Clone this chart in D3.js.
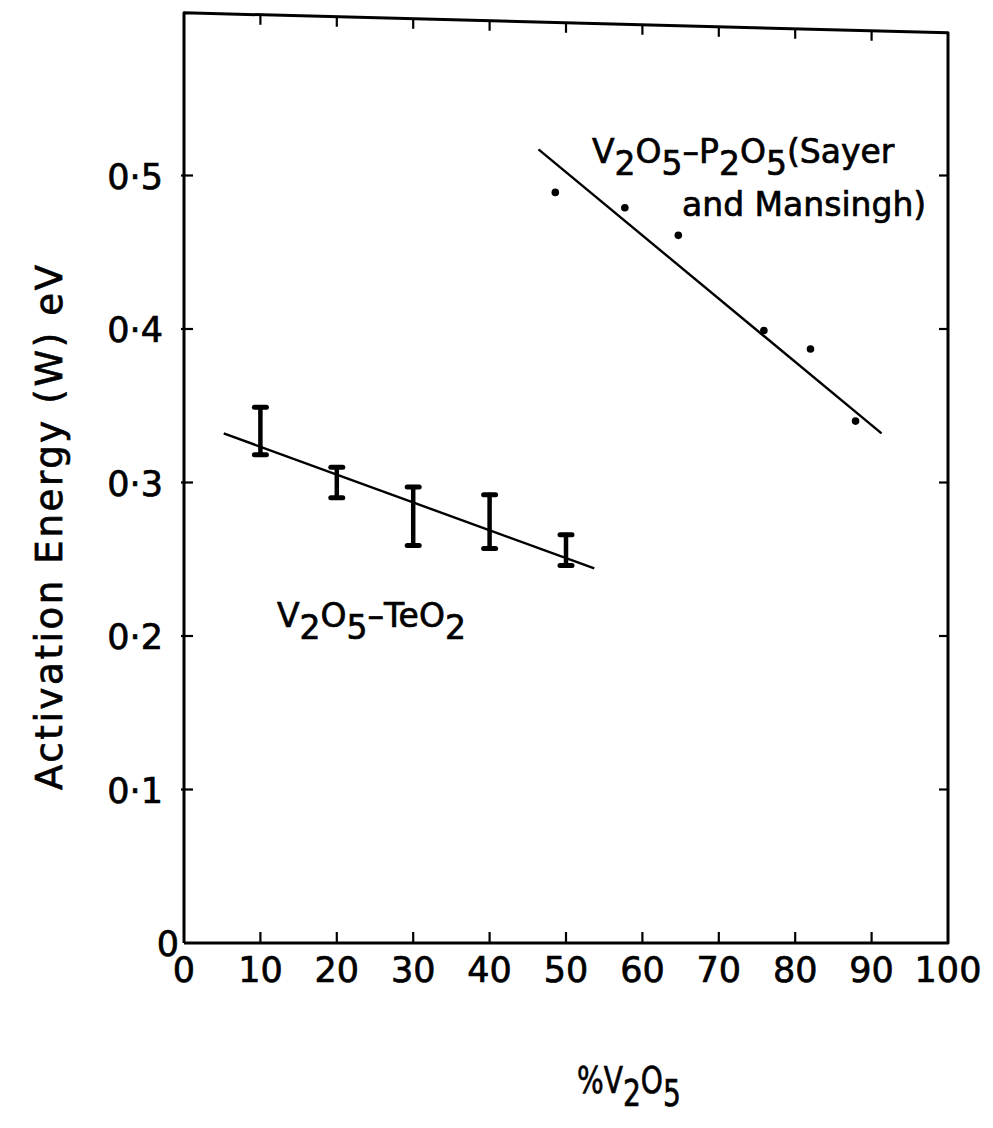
<!DOCTYPE html>
<html>
<head>
<meta charset="utf-8">
<script src="https://cdn.jsdelivr.net/npm/d3@7"></script>
<style>
  html, body { margin: 0; padding: 0; background: #fff; }
  svg { display: block; }
  text { font-family: "DejaVu Sans", "Liberation Sans", sans-serif; fill: #000; stroke: #000; stroke-width: 0.7; }
</style>
</head>
<body>
<svg id="chart" width="993" height="1128"></svg>
<script>
// V2O5–TeO2 glasses: activation energy with error ranges
const teoComposition = [10, 20, 30, 40, 50];
const teoLow  = [0.318, 0.290, 0.259, 0.257, 0.246];
const teoHigh = [0.349, 0.310, 0.297, 0.292, 0.266];
// least-squares line drawn through the TeO2 data
const teoFitX = [5.2, 53.7];
const teoFitY = [0.332, 0.244];

// V2O5–P2O5 glasses (Sayer and Mansingh)
const sayerComposition = [48.6, 57.7, 64.7, 75.9, 82.0, 87.9];
const sayerEnergy      = [0.489, 0.479, 0.461, 0.399, 0.387, 0.340];
const sayerFitX = [46.4, 91.3];
const sayerFitY = [0.517, 0.332];

// axis ticks
const xTicks = [0, 10, 20, 30, 40, 50, 60, 70, 80, 90, 100];
const yTicks = [0, 0.1, 0.2, 0.3, 0.4, 0.5];
const yTickLabels = ["0", "0·1", "0·2", "0·3", "0·4", "0·5"];
// upper edge of the plotting frame (left, right), in eV
const frameTopEnergy = [0.606, 0.593];

const svg = d3.select("#chart");
const x = d3.scaleLinear().domain([0, 100]).range([184, 948]);
const y = d3.scaleLinear().domain([0, 0.6]).range([943, 22]);
const topEdge = d3.scaleLinear().domain([0, 100])
  .range([y(frameTopEnergy[0]), y(frameTopEnergy[1])]);

const ink = "#000";

// frame
const frame = svg.append("g").attr("fill", "none").attr("stroke", ink)
  .attr("stroke-width", 3).attr("stroke-linejoin", "round");
frame.append("path").attr("d", d3.line()([
  [x(0), y(0)], [x(0), topEdge(0)], [x(100), topEdge(100)], [x(100), y(0)], [x(0), y(0)]
]));

// inward ticks on all four sides
const inner = xTicks.filter(d => d > 0 && d < 100);
const innerY = yTicks.filter(d => d > 0);
const ticks = svg.append("g").attr("stroke", ink).attr("stroke-width", 2.2);
ticks.selectAll(".tb").data(inner).join("line")
  .attr("x1", d => x(d)).attr("x2", d => x(d))
  .attr("y1", y(0)).attr("y2", y(0) - 11);
ticks.selectAll(".tt").data(inner).join("line")
  .attr("x1", d => x(d)).attr("x2", d => x(d))
  .attr("y1", d => topEdge(d)).attr("y2", d => topEdge(d) + 10);
ticks.selectAll(".tl").data(innerY).join("line")
  .attr("x1", x(0) - 3).attr("x2", x(0) + 9)
  .attr("y1", d => y(d)).attr("y2", d => y(d));
ticks.selectAll(".tr").data(innerY).join("line")
  .attr("x1", x(100)).attr("x2", x(100) - 9)
  .attr("y1", d => y(d)).attr("y2", d => y(d));

// tick labels
svg.append("g").selectAll("text").data(xTicks).join("text")
  .attr("x", d => x(d)).attr("y", 982)
  .attr("text-anchor", "middle").attr("font-size", 35)
  .text(d => d);
svg.append("g").selectAll("text").data(yTicks).join("text")
  .attr("x", d => d === 0 ? x(0) - 5 : x(0) - 21)
  .attr("y", d => y(d) + 13)
  .attr("text-anchor", "end").attr("font-size", 35)
  .text((d, i) => yTickLabels[i]);

// axis titles
svg.append("text")
  .attr("transform", `translate(62, ${(265 + 790) / 2}) rotate(-90)`)
  .attr("text-anchor", "middle").attr("font-size", 37)
  .attr("textLength", 525).attr("lengthAdjust", "spacing")
  .text("Activation Energy (W) eV");

function formula(g, parts, size) {
  // parts: [text, isSubscript]
  const t = g.append("text").attr("font-size", size);
  parts.forEach(([s, sub], i) => {
    const prevSub = i > 0 && parts[i - 1][1];
    let dy = 0;
    if (sub && !prevSub) dy = size * 0.36;
    if (!sub && prevSub) dy = -size * 0.36;
    t.append("tspan").attr("dy", dy).text(s);
  });
  return t;
}

// x title, lettered narrow
formula(svg, [["%V", false], ["2", true], ["O", false], ["5", true]], 37)
  .attr("transform", "translate(577, 1093) scale(0.76, 1)");

// series labels
formula(svg, [["V", false], ["2", true], ["O", false], ["5", true], ["–TeO", false], ["2", true]], 33)
  .attr("x", 277).attr("y", 627);
formula(svg, [["V", false], ["2", true], ["O", false], ["5", true], ["–P", false], ["2", true],
              ["O", false], ["5", true], ["(Sayer", false]], 33)
  .attr("x", 592).attr("y", 163);
svg.append("text").attr("x", 682).attr("y", 216).attr("font-size", 33).text("and Mansingh)");

// fitted lines
const line = d3.line().x(d => x(d[0])).y(d => y(d[1]));
svg.append("path").attr("d", line(teoFitX.map((v, i) => [v, teoFitY[i]])))
  .attr("fill", "none").attr("stroke", ink).attr("stroke-width", 2.4);
svg.append("path").attr("d", line(sayerFitX.map((v, i) => [v, sayerFitY[i]])))
  .attr("fill", "none").attr("stroke", ink).attr("stroke-width", 2.4);

// error bars
const bars = svg.append("g").attr("stroke", ink).attr("stroke-linecap", "round");
teoComposition.forEach((c, i) => {
  const cx = x(c);
  bars.append("line").attr("x1", cx).attr("x2", cx)
    .attr("y1", y(teoLow[i])).attr("y2", y(teoHigh[i])).attr("stroke-width", 4.5);
  [teoLow[i], teoHigh[i]].forEach(v => {
    bars.append("line").attr("x1", cx - 6).attr("x2", cx + 6)
      .attr("y1", y(v)).attr("y2", y(v)).attr("stroke-width", 5);
  });
});

// Sayer and Mansingh points
svg.append("g").selectAll("circle").data(sayerComposition).join("circle")
  .attr("cx", d => x(d)).attr("cy", (d, i) => y(sayerEnergy[i]))
  .attr("r", 3.8).attr("fill", ink);
</script>
</body>
</html>
